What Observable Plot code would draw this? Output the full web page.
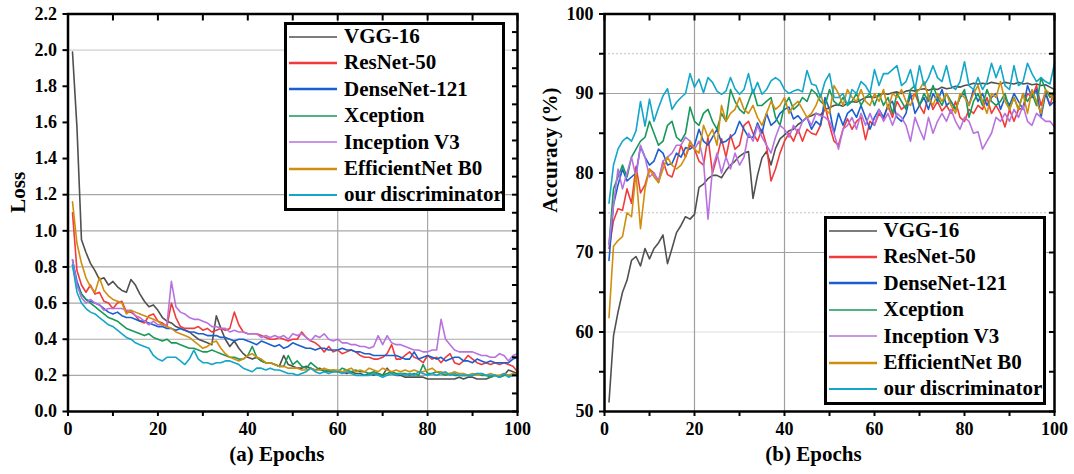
<!DOCTYPE html>
<html><head><meta charset="utf-8">
<script src="https://cdn.jsdelivr.net/npm/d3@7"></script>
<script src="https://cdn.jsdelivr.net/npm/@observablehq/plot@0.6"></script>
<style>
body{margin:0;background:#fff;}
#wrap{position:relative;width:1074px;height:474px;overflow:hidden;font-family:"Liberation Serif","Times New Roman",serif;font-weight:bold;}
.panel{position:absolute;top:0;}
.legend{position:absolute;background:#fff;border:3px solid #000;box-sizing:border-box;}
.row{position:absolute;left:0;height:26px;display:flex;align-items:center;font-size:21px;white-space:nowrap;color:#000;}
.row svg{flex:none;}
</style></head><body><div id="wrap"></div>
<script>
const models = ["VGG-16","ResNet-50","DenseNet-121","Xception","Inception V3","EfficientNet B0","our discriminator"];
const colors = ["#505050","#f23a3a","#1a5fd0","#18995a","#b872e0","#d18e0c","#12a6c8"];
const legendWidths = [1.5,2.5,2.5,1.5,1.5,2.5,2];
const epochs = d3.range(1,101);

const lossVGG = [1.99,1.57,0.95,0.88,0.82,0.78,0.73,0.74,0.70,0.72,
0.69,0.67,0.66,0.73,0.70,0.65,0.61,0.58,0.59,0.56,
0.52,0.50,0.49,0.47,0.46,0.45,0.44,0.42,0.40,0.39,
0.38,0.37,0.53,0.46,0.40,0.36,0.39,0.35,0.32,0.30,
0.29,0.30,0.28,0.27,0.27,0.26,0.25,0.31,0.26,0.25,
0.24,0.24,0.25,0.24,0.23,0.24,0.22,0.23,0.22,0.22,
0.22,0.21,0.22,0.21,0.21,0.20,0.21,0.20,0.21,0.20,
0.24,0.21,0.20,0.20,0.19,0.19,0.19,0.19,0.19,0.18,
0.18,0.18,0.18,0.18,0.18,0.18,0.19,0.18,0.19,0.19,
0.18,0.18,0.18,0.19,0.20,0.19,0.20,0.23,0.22,0.21];
const lossRes = [1.10,0.78,0.70,0.66,0.70,0.65,0.66,0.61,0.60,0.57,
0.60,0.61,0.55,0.55,0.53,0.50,0.49,0.53,0.54,0.50,
0.49,0.47,0.60,0.52,0.47,0.46,0.46,0.46,0.47,0.45,
0.46,0.44,0.45,0.46,0.45,0.46,0.55,0.48,0.44,0.43,
0.43,0.43,0.42,0.41,0.40,0.40,0.41,0.40,0.39,0.40,
0.40,0.44,0.41,0.39,0.38,0.36,0.33,0.36,0.33,0.34,
0.32,0.33,0.34,0.33,0.31,0.30,0.30,0.29,0.29,0.30,
0.32,0.37,0.29,0.29,0.31,0.33,0.30,0.29,0.27,0.31,
0.29,0.30,0.27,0.30,0.32,0.27,0.26,0.28,0.31,0.29,
0.27,0.26,0.27,0.26,0.27,0.26,0.27,0.26,0.25,0.22];
const lossDense = [0.84,0.72,0.65,0.62,0.61,0.60,0.59,0.57,0.55,0.54,
0.55,0.53,0.52,0.52,0.51,0.50,0.50,0.49,0.48,0.47,
0.47,0.46,0.46,0.45,0.46,0.45,0.44,0.44,0.43,0.43,
0.42,0.42,0.42,0.41,0.41,0.40,0.39,0.40,0.40,0.39,
0.38,0.37,0.39,0.38,0.37,0.36,0.37,0.35,0.36,0.38,
0.37,0.36,0.35,0.35,0.34,0.35,0.35,0.34,0.34,0.34,
0.35,0.34,0.34,0.33,0.33,0.32,0.32,0.31,0.31,0.31,
0.31,0.31,0.31,0.30,0.29,0.29,0.33,0.29,0.30,0.31,
0.30,0.29,0.30,0.28,0.29,0.30,0.30,0.28,0.28,0.27,
0.29,0.28,0.27,0.28,0.27,0.27,0.27,0.27,0.29,0.30];
const lossXcep = [0.81,0.70,0.65,0.62,0.60,0.58,0.56,0.54,0.52,0.51,
0.50,0.48,0.46,0.45,0.44,0.43,0.42,0.43,0.41,0.40,
0.39,0.40,0.38,0.38,0.37,0.36,0.35,0.35,0.34,0.33,
0.33,0.34,0.33,0.32,0.31,0.30,0.30,0.29,0.29,0.31,
0.36,0.30,0.28,0.27,0.27,0.26,0.25,0.25,0.31,0.26,
0.28,0.25,0.24,0.27,0.25,0.23,0.23,0.22,0.23,0.22,
0.24,0.23,0.22,0.23,0.22,0.22,0.21,0.22,0.21,0.20,
0.21,0.22,0.21,0.21,0.21,0.20,0.21,0.20,0.26,0.21,
0.21,0.22,0.21,0.20,0.21,0.20,0.20,0.20,0.20,0.20,
0.21,0.20,0.20,0.19,0.20,0.19,0.20,0.20,0.20,0.21];
const lossIncep = [0.84,0.70,0.63,0.60,0.62,0.60,0.59,0.56,0.57,0.57,
0.57,0.57,0.56,0.56,0.53,0.52,0.50,0.48,0.50,0.48,
0.48,0.48,0.72,0.58,0.55,0.54,0.52,0.51,0.51,0.50,
0.49,0.47,0.47,0.46,0.46,0.44,0.45,0.44,0.44,0.43,
0.43,0.43,0.41,0.42,0.41,0.42,0.41,0.42,0.40,0.43,
0.42,0.43,0.41,0.39,0.42,0.41,0.43,0.40,0.39,0.40,
0.38,0.38,0.37,0.37,0.36,0.36,0.35,0.36,0.42,0.37,
0.42,0.38,0.37,0.37,0.36,0.35,0.34,0.34,0.33,0.33,
0.34,0.34,0.51,0.40,0.37,0.34,0.33,0.33,0.33,0.33,
0.32,0.31,0.31,0.30,0.30,0.32,0.31,0.28,0.31,0.32];
const lossEff = [1.16,0.93,0.82,0.74,0.69,0.66,0.74,0.67,0.64,0.62,
0.61,0.60,0.54,0.56,0.55,0.54,0.53,0.52,0.51,0.50,
0.48,0.47,0.46,0.44,0.43,0.42,0.41,0.39,0.37,0.35,
0.36,0.38,0.39,0.35,0.32,0.30,0.29,0.28,0.29,0.31,
0.32,0.30,0.29,0.27,0.27,0.26,0.25,0.25,0.24,0.24,
0.24,0.23,0.23,0.24,0.23,0.23,0.24,0.23,0.23,0.23,
0.22,0.23,0.24,0.22,0.23,0.22,0.24,0.23,0.22,0.24,
0.23,0.22,0.23,0.22,0.23,0.22,0.23,0.22,0.22,0.23,
0.24,0.22,0.22,0.21,0.21,0.22,0.21,0.21,0.20,0.21,
0.20,0.21,0.20,0.21,0.20,0.20,0.21,0.20,0.21,0.20];
const lossOur = [0.81,0.66,0.60,0.57,0.55,0.54,0.52,0.50,0.48,0.47,
0.45,0.43,0.41,0.40,0.38,0.37,0.36,0.35,0.31,0.29,
0.28,0.30,0.30,0.30,0.28,0.26,0.29,0.34,0.29,0.27,
0.27,0.26,0.27,0.27,0.28,0.28,0.27,0.26,0.24,0.23,
0.22,0.24,0.24,0.23,0.24,0.23,0.23,0.22,0.21,0.21,
0.20,0.21,0.22,0.24,0.22,0.21,0.22,0.21,0.22,0.22,
0.21,0.22,0.21,0.20,0.20,0.20,0.20,0.21,0.20,0.19,
0.20,0.21,0.20,0.21,0.20,0.21,0.20,0.22,0.21,0.20,
0.21,0.20,0.21,0.22,0.20,0.21,0.20,0.20,0.20,0.20,
0.21,0.21,0.20,0.20,0.20,0.19,0.21,0.19,0.20,0.20];

const accVGG = [51.2,59.5,62.5,65,66.5,69,69.5,68.3,70.5,69.2,
70.5,71.2,72.2,68.6,70.5,72.5,73.4,74.5,74.2,74.8,
78.2,78.6,79.3,79.7,79.7,79.4,80.3,81,81.5,82.1,
82.5,82.7,76.8,79.7,81.9,82.7,81,83.1,84.3,84.8,
85.3,85.5,86.1,86.5,87,87.2,87.5,87.3,88,88.2,
88.5,88.6,88.4,88.8,89,88.9,89.2,89.5,89.6,89.5,
89.8,90,89.9,90.1,90.2,90,90.3,90.4,90.3,90.5,
90.6,90.4,90.6,90.5,90.8,90.6,90.7,90.9,90.8,91,
91.1,91.3,91.2,91.3,91.2,91.4,91.3,91.2,91.4,91.3,
91.2,91.4,91.2,91.3,91.1,91.2,91,91.1,90.8,90.5];
const accRes = [70.5,74,75.5,75.3,78,76.2,80.8,77.5,78.5,80.5,
80,78.8,81.5,79.8,79.5,81.3,83.5,82,83.5,83,
81.5,81,84.5,80,82,84.3,82,84.8,83,83.5,
86,86.5,85,84,85.5,83.5,79,80.5,82.5,84,
85,84,85.5,84,85.5,85,84.8,86,88.5,86,
84,83.5,85.5,86.8,85.5,86.5,87,84.2,86.5,86,
87.5,86.8,88.5,87,89,88,88.5,89.5,90,88.5,
87.5,89.8,88,89,87.8,88.5,87.5,89,87,86.5,
88,87.5,88.5,88,89.5,87.5,88.5,87.5,85.8,88,
86.5,88,88.2,90,89.5,91,88.5,90.2,88.5,90.5];
const accDense = [69,76,78.5,80.5,79,79.5,80,83.3,82,81,
81.5,83,82.5,81,81.2,82.5,82,83.2,83,83.5,
85.5,84,83.5,84.5,85.5,83.8,84,84.5,85,86.5,
85.5,84.5,84.5,86.3,85,87.5,86,86.5,87.5,88,
88.3,86.8,87.2,86.5,87,85.5,86.5,86,89.5,88,
85,87.5,86,87.5,88,87,88.5,87,85.5,87,
88,87,88.5,89,87,86.5,87.5,90,87.5,88.5,
89.5,88,90,89,90.5,88.5,89,88,89.5,90,
88.5,90.5,89,90,88.5,89.5,90,88,89.5,88.5,
90,89,88,91,89.5,90.5,87,90,88.5,89];
const accXcep = [71,78,79.5,81,79.5,82,83,84,84.5,86.5,
85,83.5,84,86,86.5,84.5,84,85,88.3,86.5,
86,87.5,88,86.5,85.5,87.5,86.5,90.5,89,88,
87.5,89,90.5,88.5,88.5,89,89.5,87,86,88.5,
89.5,88,88.5,89.5,89,90.5,90,89,88.5,90.5,
89,88.5,89.5,88.5,89,90,88.5,89.5,90,88.5,
90,88.5,89.5,87.5,90,89,88,90.5,91,88.5,
90,89,91,89.5,88.5,90,89,88,89.5,90.5,
87,89,90,88.5,90.5,89,88.5,89,90,88,
89.5,88,90,89,90,88.5,92,90.5,89.5,90];
const accIncep = [71,76,80.5,78,80,82,79.5,83.5,82,79.5,
80,79,81.5,82,82.5,83.5,83.5,84.5,84,83,
84,81.5,74.2,80.5,82.5,80,82,80.5,82.5,81,
82,85,84,86,84.5,83.5,82.5,84.5,86,85.5,
84.5,86,85,86.5,87,86,87.5,87.2,87,86.5,
85,83,85.5,86,87,85.5,87.5,86,87.5,86,
88,86.5,87.5,86,87.5,87,86,84,87,85.5,
84.2,87,85,86.5,87.5,86.5,88,86.5,85.5,87,
86.5,85,85.2,83,84,85,87,86.5,87.5,86.5,
88,87,88.5,86.5,86,87.5,87,86.5,86.5,85.8];
const accEff = [61.8,70.8,71.5,72,75,74.5,80,73,78,80.5,
79.5,78.8,80.5,82,81,80.5,81,82,84,83,
82.5,86,84.5,85.5,83.5,88.5,86.5,87.5,88,89.5,
88,87.5,88.5,87,86,87.5,89,88,88.5,89.5,
87.5,88.5,89,88,87,87.5,88.5,90,88,87.5,
91,90,88.5,90.5,89.5,89,90.5,89,88.5,90,
89,90.5,88,90,89.5,90.5,89,88.5,90,90.5,
91.5,89.5,88.5,90,89,90,88.5,87.5,90,89.5,
88.5,90,91,89,87.5,90,89.5,91.5,89,88,
89.5,88,90,87.5,90.5,89,87.5,90.5,90,89];
const accOur = [76.2,81,83,84,84.5,84,85.3,89,85.9,89.3,
86.5,88.2,89.7,90.6,88,88.9,89.5,90,92.5,90.8,
91.8,90.1,92,91.4,90.3,89.9,90.3,92,90.6,89.9,
90.5,92.5,90,91.4,89.9,90.5,91.6,92,91.6,90.5,
90,90.3,90.5,90.2,92.9,91.2,91,89.5,91.5,92.5,
89.5,89.5,90,88.5,90.5,90,91.5,91,90,93,
91,92.5,92.5,93,93.5,91,91.5,93,90.5,93.5,
91,92,93.5,92,91.5,93.5,91,90.5,91.5,94,
91,90.5,92,90.5,91.5,93.8,92,93.5,91,90.5,
93.5,91,91.5,93.8,92.5,91.5,92,91.5,91.2,93.8];

const lossSeries = [lossVGG,lossRes,lossDense,lossXcep,lossIncep,lossEff,lossOur];
const accSeries = [accVGG,accRes,accDense,accXcep,accIncep,accEff,accOur];

function tidy(series){
  const out = [];
  series.forEach((arr,i)=>arr.forEach((v,j)=>out.push({model:models[i],epoch:epochs[j],value:v})));
  return out;
}

const font = "'Liberation Serif','Times New Roman',serif";
const tickW = 2;

function makePanel(cfg){
  const marks = [
    ...cfg.grids,
    Plot.line(tidy(cfg.series), {x:"epoch", y:"value", stroke:"model", z:"model", strokeWidth:1.6}),
    Plot.axisY({ticks:cfg.yLabelTicks, tickFormat:cfg.yFormat, tickSize:5, tickPadding:6, strokeWidth:tickW, color:"#000", label:null, fontSize:18}),
    Plot.axisY({ticks:cfg.yMinorTicks, tickSize:5, strokeWidth:tickW, stroke:"#000", fill:"none", label:null}),
    Plot.axisY({anchor:"right", ticks:cfg.yRightTicks, tickSize:6, dx:-6, strokeWidth:tickW, stroke:"#000", fill:"none", label:null}),
    Plot.axisX({ticks:[0,20,40,60,80,100], tickSize:5, tickPadding:6, strokeWidth:tickW, color:"#000", label:null, fontSize:18}),
    Plot.axisX({ticks:[10,30,50,70,90], tickSize:5, strokeWidth:tickW, stroke:"#000", fill:"none", label:null}),
    Plot.axisX({anchor:"top", ticks:d3.range(0,101,10), tickSize:6, dy:6, strokeWidth:tickW, stroke:"#000", fill:"none", label:null}),
    Plot.frame({stroke:"#000", strokeWidth:2.5}),
    Plot.text([cfg.xTitle], {text:d=>d, frameAnchor:"bottom", dy:49, dx:-16, fontSize:21, fontWeight:"bold", fill:"#000"}),
    Plot.text([cfg.yTitle], {text:d=>d, frameAnchor:"left", rotate:-90, dx:cfg.yTitleDx, fontSize:21, fontWeight:"bold", fill:"#000"})
  ];
  return Plot.plot({
    width:537, height:474,
    marginLeft:cfg.marginLeft, marginRight:20, marginTop:13.5, marginBottom:63,
    x:{domain:[0,100]},
    y:{domain:cfg.yDomain},
    color:{domain:models, range:colors},
    style:{fontFamily:font, fontSize:"18px", fontWeight:"bold", background:"transparent", overflow:"visible"},
    marks
  });
}

const left = makePanel({
  series: lossSeries,
  yDomain:[0,2.2],
  yLabelTicks: d3.range(0,2.21,0.2).map(v=>+v.toFixed(1)),
  yMinorTicks: [],
  yRightTicks: d3.range(0,2.21,0.1).map(v=>+v.toFixed(1)),
  yFormat: d3.format(".1f"),
  marginLeft:67.5,
  xTitle:"(a) Epochs", yTitle:"Loss", yTitleDx:-50,
  grids:[
    Plot.gridY([0.2,0.4,0.6,0.8,1.0,1.2], {stroke:"#a8a8a8", strokeOpacity:1, strokeWidth:1.2}),
    Plot.gridY([2.0], {stroke:"#cfcfcf", strokeOpacity:1, strokeWidth:1.2}),
    Plot.gridX([60,80], {stroke:"#a8a8a8", strokeOpacity:1, strokeWidth:1.2})
  ]
});
const right = makePanel({
  series: accSeries,
  yDomain:[50,100],
  yLabelTicks: [50,60,70,80,90,100],
  yMinorTicks: [55,65,75,85,95],
  yRightTicks: d3.range(50,101,5),
  yFormat: d3.format("d"),
  marginLeft:67,
  xTitle:"(b) Epochs", yTitle:"Accuracy (%)", yTitleDx:-54,
  grids:[
    Plot.gridY([70,90], {stroke:"#a0a0a0", strokeOpacity:1, strokeWidth:1.2}),
    Plot.gridY([60], {stroke:"#dddddd", strokeOpacity:1, strokeWidth:1.2}),
    Plot.gridY([75,95], {stroke:"#c4c4c4", strokeOpacity:1, strokeWidth:1, strokeDasharray:"2,2"}),
    Plot.gridX([20,40], {stroke:"#a0a0a0", strokeOpacity:1, strokeWidth:1.2})
  ]
});

const wrap = document.getElementById("wrap");
left.classList.add("panel"); left.style.left = "0px";
right.classList.add("panel"); right.style.left = "537px";
wrap.appendChild(left); wrap.appendChild(right);

function legend(x, y, w, h){
  const box = document.createElement("div");
  box.className = "legend";
  Object.assign(box.style, {left:x+"px", top:y+"px", width:w+"px", height:h+"px"});
  models.forEach((m,i)=>{
    const row = document.createElement("div");
    row.className = "row";
    row.style.top = (15 - 3 - 13 + i*26.4) + "px";
    row.innerHTML = `<svg width="56" height="26" style="margin-left:1px"><line x1="1" x2="49" y1="13" y2="13" stroke="${colors[i]}" stroke-width="${legendWidths[i]}"/></svg><span>${m}</span>`;
    box.appendChild(row);
  });
  wrap.appendChild(box);
}
legend(284, 21.5, 221, 189);
legend(823.5, 215.5, 222.5, 189);
</script>
</body></html>
